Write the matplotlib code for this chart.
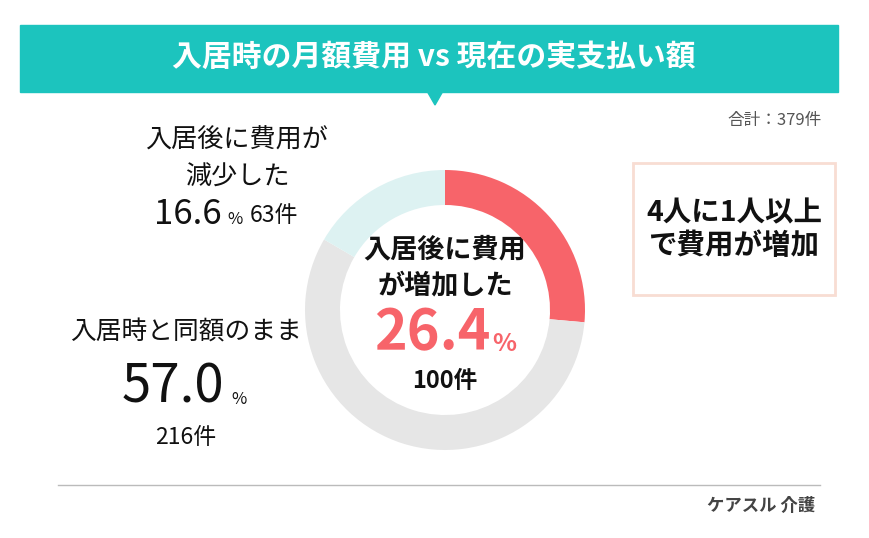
import matplotlib
matplotlib.use("Agg")
import matplotlib.pyplot as plt
from matplotlib.patches import Rectangle, Polygon

plt.rcParams['font.family'] = ['Noto Sans CJK JP', 'DejaVu Sans']

title = "入居時の月額費用 vs 現在の実支払い額"
categories = ["入居後に費用が増加した", "入居時と同額のまま", "入居後に費用が減少した"]
percents = [26.4, 57.0, 16.6]
counts = [100, 216, 63]
total = 379
colors = ["#F7646A", "#E6E6E6", "#DDF2F2"]

W, H = 870, 538
fig = plt.figure(figsize=(W / 100, H / 100), dpi=100)
ax = fig.add_axes([0, 0, 1, 1])
ax.set_xlim(0, W)
ax.set_ylim(H, 0)
ax.axis('off')

# Title banner
teal = "#1CC4BE"
ax.add_patch(Rectangle((20, 25), 818, 67, color=teal, zorder=1))
ax.add_patch(Polygon([[427, 91], [443, 91], [435, 105]], closed=True, color=teal, zorder=1))
ax.text(434, 57, title, color='white', fontsize=21.5, fontweight='bold', ha='center', va='center')

ax.text(822, 121, f"合計：{total}件", color='#555555', fontsize=12, ha='right', va='center')

# Donut
cx, cy, r = 445, 310, 140
pax = fig.add_axes([(cx - r) / W, (H - cy - r) / H, 2 * r / W, 2 * r / H])
pax.pie(percents, colors=colors, startangle=90, counterclock=False,
        wedgeprops=dict(width=0.25, edgecolor='none'))
pax.set_xlim(-1, 1)
pax.set_ylim(-1, 1)
pax.set_aspect('equal')
pax.axis('off')

dark = '#111111'
# Center text
ax.text(cx, 249, "入居後に費用", fontsize=19.5, fontweight='bold', ha='center', va='center', color=dark, zorder=5)
ax.text(cx, 285, "が増加した", fontsize=19.5, fontweight='bold', ha='center', va='center', color=dark, zorder=5)
ax.text(490, 333, f"{percents[0]:.1f}", fontsize=40, fontweight='bold', ha='right', va='center', color=colors[0], zorder=5)
ax.text(492, 344, "%", fontsize=18, fontweight='bold', ha='left', va='center', color=colors[0], zorder=5)
ax.text(cx, 381, f"{counts[0]}件", fontsize=17, fontweight='bold', ha='center', va='center', color=dark, zorder=5)

# Left labels: decreased
ax.text(237, 140, "入居後に費用が", fontsize=18.8, ha='center', va='center', color=dark)
ax.text(237, 177, "減少した", fontsize=18.8, ha='center', va='center', color=dark)
ax.text(222, 215, f"{percents[2]:.1f}", fontsize=25, ha='right', va='center', color=dark)
ax.text(227, 220, "%", fontsize=12, ha='left', va='center', color=dark)
ax.text(250, 216, f"{counts[2]}件", fontsize=16.5, ha='left', va='center', color=dark)

# Left labels: same
ax.text(186, 333, "入居時と同額のまま", fontsize=18.5, ha='center', va='center', color=dark)
ax.text(224, 387, f"{percents[1]:.1f}", fontsize=38, ha='right', va='center', color=dark)
ax.text(231, 399, "%", fontsize=12, ha='left', va='center', color=dark)
ax.text(186, 437, f"{counts[1]}件", fontsize=16.5, ha='center', va='center', color=dark)

# Right callout box
ax.add_patch(Rectangle((633, 163), 202, 132, fill=False, edgecolor='#F8DDD3', linewidth=2))
ax.text(734, 213, "4人に1人以上", fontsize=20.5, fontweight='bold', ha='center', va='center', color=dark)
ax.text(734, 246, "で費用が増加", fontsize=20.5, fontweight='bold', ha='center', va='center', color=dark)

# Footer
ax.plot([58, 820], [485, 485], color='#BBBBBB', linewidth=1)
ax.text(815, 506, "ケアスル 介護", fontsize=12.5, fontweight='bold', ha='right', va='center', color='#444444')

fig.savefig("out.png", dpi=100)
